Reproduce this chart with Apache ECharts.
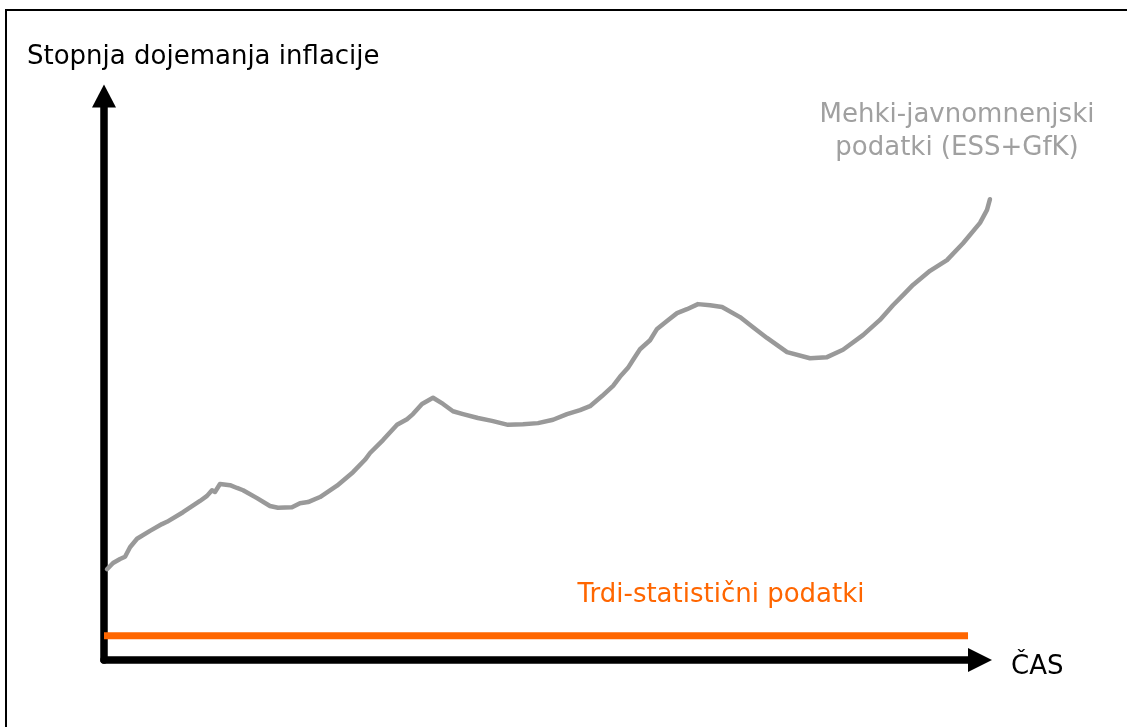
<!DOCTYPE html>
<html>
<head>
<meta charset="utf-8">
<script src="https://cdn.jsdelivr.net/npm/echarts@6/dist/echarts.min.js"></script>
<style>
  html, body { margin: 0; padding: 0; background: #fff; }
  #chart { width: 1127px; height: 727px; }
</style>
</head>
<body>
<div id="chart"></div>
<script>
// time index (0..100) and perceived inflation level (0..100)
const softTime = [0.34, 1.02, 1.81, 2.37, 2.93, 3.72, 5.18, 6.53, 7.09, 8.90, 10.81, 11.60, 12.16, 12.50, 13.06,
  14.19, 14.98, 15.66, 17.23, 18.69, 19.59, 21.17, 22.07, 22.98, 24.33, 26.24, 28.04, 29.39, 29.96, 31.42,
  33.00, 34.12, 34.79, 35.81, 37.05, 38.18, 39.30, 40.43, 42.11, 43.69, 45.50, 47.18, 48.87, 50.57, 52.14,
  53.61, 54.73, 56.08, 57.33, 58.10, 59.01, 59.57, 60.36, 61.49, 62.28, 63.40, 64.53, 65.65, 66.89, 68.25,
  69.60, 71.62, 73.09, 74.66, 76.92, 79.50, 81.42, 83.22, 85.47, 87.38, 88.85, 89.98, 91.10, 93.02, 94.93,
  96.74, 98.65, 99.44, 99.77]
const softLevel = [16.1, 17.2, 17.9, 18.3, 20.0, 21.5, 22.9, 24.1, 24.5, 26.2, 28.2, 29.1, 30.1, 29.8, 31.2,
  31.0, 30.5, 30.1, 28.7, 27.3, 27.0, 27.1, 27.8, 28.0, 28.9, 30.9, 33.3, 35.5, 36.7, 39.0,
  41.7, 42.7, 43.6, 45.4, 46.5, 45.4, 44.1, 43.6, 42.9, 42.4, 41.7, 41.8, 42.0, 42.6, 43.6,
  44.3, 45.0, 46.8, 48.6, 50.2, 51.8, 53.2, 55.1, 56.7, 58.7, 60.1, 61.5, 62.2, 63.1, 62.9,
  62.6, 60.8, 59.0, 57.1, 54.6, 53.5, 53.7, 55.0, 57.6, 60.3, 62.9, 64.7, 66.5, 69.0, 70.9,
  73.9, 77.5, 79.8, 81.7]

const hardTime = [0, 97.3]
const hardLevel = [4.3, 4.3]

const yTitle = 'Stopnja dojemanja inflacije'
const xTitle = 'ČAS'
const softLabel = 'Mehki-javnomnenjski\npodatki (ESS+GfK)'
const hardLabel = 'Trdi-statistični podatki'

const FONT = '26px Tahoma, "DejaVu Sans", Verdana, sans-serif'

const chart = echarts.init(document.getElementById('chart'))

const arrowAxis = (size) => ({
  type: 'value',
  min: 0,
  max: 100,
  axisLine: {
    show: true,
    symbol: ['none', 'triangle'],
    symbolSize: size,
    lineStyle: { color: '#000', width: 7.5 }
  },
  axisTick: { show: false },
  axisLabel: { show: false },
  splitLine: { show: false }
})

const hiddenAxis = (grid) => ({
  type: 'value',
  gridIndex: grid,
  min: 0,
  max: 100,
  show: false
})

const option = {
  animation: false,
  backgroundColor: '#fff',
  grid: [
    // axes with arrow heads
    { left: 104, right: 147, top: 96, bottom: 67 },
    // plotting area for the lines (reaches under the arrow head)
    { left: 104, right: 135, top: 96, bottom: 67 }
  ],
  xAxis: [arrowAxis([24, 24]), hiddenAxis(1)],
  yAxis: [arrowAxis([24, 23]), hiddenAxis(1)],
  series: [
    {
      name: 'soft',
      type: 'line',
      xAxisIndex: 1,
      yAxisIndex: 1,
      data: softTime.map((t, i) => [t, softLevel[i]]),
      showSymbol: false,
      clip: false,
      z: 3,
      lineStyle: { color: '#999', width: 4.5, join: 'round', cap: 'round' }
    },
    {
      name: 'hard',
      type: 'line',
      xAxisIndex: 1,
      yAxisIndex: 1,
      data: hardTime.map((t, i) => [t, hardLevel[i]]),
      showSymbol: false,
      clip: false,
      z: 3,
      lineStyle: { color: '#ff6600', width: 7, cap: 'butt' }
    }
  ],
  graphic: [
    {
      type: 'rect',
      shape: { x: 6, y: 10, width: 1140, height: 740 },
      style: { fill: 'none', stroke: '#000', lineWidth: 2 },
      silent: true
    },
    {
      type: 'text',
      style: { x: 27, y: 57, text: yTitle, font: FONT, fill: '#000', textAlign: 'left', textVerticalAlign: 'middle' }
    },
    {
      type: 'text',
      style: { x: 1011, y: 667, text: xTitle, font: FONT, fill: '#000', textAlign: 'left', textVerticalAlign: 'middle' }
    },
    {
      type: 'text',
      style: { x: 957, y: 132, text: softLabel, font: FONT, fill: '#a0a0a0', textAlign: 'center', textVerticalAlign: 'middle', lineHeight: 33 }
    },
    {
      type: 'text',
      style: { x: 721, y: 595, text: hardLabel, font: FONT, fill: '#ff6600', textAlign: 'center', textVerticalAlign: 'middle' }
    }
  ]
}

chart.setOption(option)
window.addEventListener('resize', () => chart.resize())
</script>
</body>
</html>
